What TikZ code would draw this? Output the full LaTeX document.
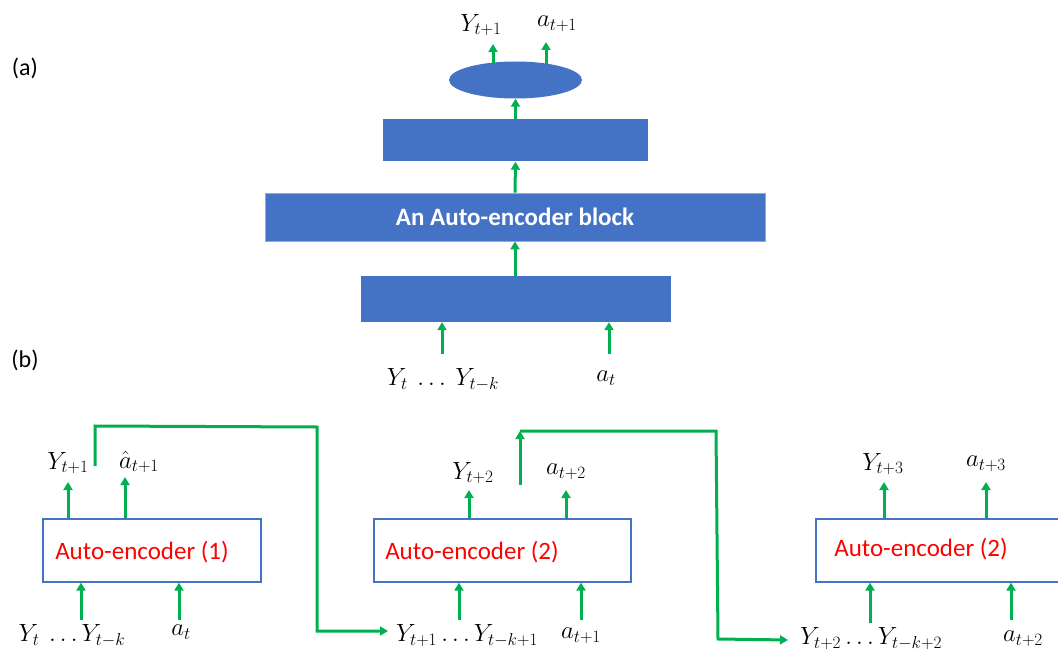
\documentclass[tikz,border=0pt]{standalone}
\usepackage{fontspec}
\setmainfont{Carlito}
\DeclareMathSizes{24}{24}{19}{15}
\usetikzlibrary{shapes.geometric,arrows.meta,calc}
\definecolor{blk}{HTML}{4472C4}
\definecolor{grn}{HTML}{00B050}
\definecolor{rd}{HTML}{FF0000}
\tikzset{
  fillbox/.style={draw=none,fill=blk,inner sep=0pt},
  linebox/.style={draw=blk,line width=1.2pt,fill=white,inner sep=0pt},
  garrow/.style={draw=grn,line width=3pt,-{Triangle[length=8pt,width=9pt]}},
  gline/.style={draw=grn,line width=3pt},
  mlab/.style={inner sep=0pt,font=\fontsize{24}{28}\selectfont},
  tlab/.style={inner sep=0pt,font=\fontsize{24}{28}\selectfont},
  aetxt/.style={inner sep=0pt,text=rd,font=\fontsize{25}{30}\selectfont},
}
\begin{document}
\begin{tikzpicture}[x=1pt,y=-1pt]
\useasboundingbox (0,0) rectangle (1058,650);
\clip (0,0) rectangle (1058,650);
% ---------- (a) ----------
\node[tlab] (la) at (25,68) {(a)};
\node[tlab] (lb) at (25,360) {(b)};
\node[fillbox,ellipse,minimum width=133pt,minimum height=37pt] (ell) at (515.5,80) {};
\node[fillbox,minimum width=265pt,minimum height=42pt] (r2) at (515.5,140.5) {};
\node[fillbox,draw=blk!60!white,line width=0.8pt,minimum width=500pt,minimum height=48pt,text=white,font=\bfseries\fontsize{25}{30}\selectfont] (r3) at (515,217) {An Auto-encoder block};
\node[fillbox,minimum width=310pt,minimum height=46pt] (r4) at (516,299) {};
\draw[garrow] (r4.north -| r3.south) -- (r3.south);
\draw[garrow] (r3.north) -- (r2.south);
\draw[garrow] (r2.north) -- (ell.south);
\node[mlab] (aY) at (481,25) {$Y_{t+1}$};
\node[mlab] (aA) at (557,24) {$a_{t+1}$};
\coordinate (aYt) at (493,44);
\coordinate (aAt) at (546,42);
\draw[garrow] (ell.north -| aYt) ++(0,2) -- (aYt);
\draw[garrow] (ell.north -| aAt) ++(0,3) -- (aAt);
\node[mlab] (aIn) at (443,380) {$Y_t\ \ldots\ Y_{t-k}$};
\node[mlab] (aIa) at (606,378) {$a_t$};
\coordinate (aI1) at (442,354);
\coordinate (aI2) at (609,354);
\draw[garrow] (aI1) -- (aI1 |- r4.south);
\draw[garrow] (aI2) -- (aI2 |- r4.south);
% ---------- (b) ----------
\node[linebox,minimum width=218pt,minimum height=63pt] (b1) at (152,550.5) {};
\node[linebox,minimum width=257pt,minimum height=63pt] (b2) at (502.5,550.5) {};
\node[linebox,minimum width=260pt,minimum height=63pt] (b3) at (946,550.5) {};
\node[aetxt] (t1) at (142,552) {Auto-encoder (1)};
\node[aetxt] (t2) at (472,552) {Auto-encoder (2)};
\node[aetxt] (t3) at (921,549) {Auto-encoder (2)};
% box 1
\node[mlab] (o1Y) at (68,463) {$Y_{t+1}$};
\node[mlab] (o1A) at (139,462) {$\hat{a}_{t+1}$};
\coordinate (o1Yt) at (68,482);
\coordinate (o1At) at (125,477);
\draw[garrow] (o1Yt |- b1.north) -- (o1Yt);
\draw[garrow] (o1At |- b1.north) -- (o1At);
\node[mlab] (i1Y) at (72,636) {$Y_t\ \ldots Y_{t-k}$};
\node[mlab] (i1A) at (181,632) {$a_t$};
\coordinate (i1Ys) at (81,620);
\coordinate (i1As) at (179,620);
\draw[garrow] (i1Ys) -- (i1Ys |- b1.south);
\draw[garrow] (i1As) -- (i1As |- b1.south);
% box 2
\node[mlab] (o2Y) at (473,473) {$Y_{t+2}$};
\node[mlab] (o2A) at (566,472) {$a_{t+2}$};
\coordinate (o2Yt) at (469,490);
\coordinate (o2At) at (566,490);
\draw[garrow] (o2Yt |- b2.north) -- (o2Yt);
\draw[garrow] (o2At |- b2.north) -- (o2At);
\node[mlab] (i2Y) at (467,636) {$Y_{t+1} \ldots Y_{t-k+1}$};
\node[mlab] (i2A) at (581,636) {$a_{t+1}$};
\coordinate (i2Ys) at (459,620);
\coordinate (i2As) at (581,620);
\draw[garrow] (i2Ys) -- (i2Ys |- b2.south);
\draw[garrow] (i2As) -- (i2As |- b2.south);
% box 3
\node[mlab] (o3Y) at (883,464) {$Y_{t+3}$};
\node[mlab] (o3A) at (986,464) {$a_{t+3}$};
\coordinate (o3Yt) at (884,482);
\coordinate (o3At) at (986,482);
\draw[garrow] (o3Yt |- b3.north) -- (o3Yt);
\draw[garrow] (o3At |- b3.north) -- (o3At);
\node[mlab] (i3Y) at (871,639) {$Y_{t+2} \ldots Y_{t-k+2}$};
\node[mlab] (i3A) at (1023,639) {$a_{t+2}$};
\coordinate (i3Ys) at (870,623);
\coordinate (i3As) at (1011,620);
\draw[garrow] (i3Ys) -- (i3Ys |- b3.south);
\draw[garrow] (i3As) -- (i3As |- b3.south);
% feedback connectors
\coordinate (f1s) at (95,466);
\coordinate (f1a) at (95,426);
\coordinate (f1b) at (317,427);
\coordinate (f1c) at (317,631);
\coordinate (f1e) at (388,631);
\draw[gline,-{Triangle[length=8pt,width=9pt]},line join=miter] (f1s) -- (f1a) -- (f1b) -- (f1c) -- (f1e);
\coordinate (f2s) at (520,485);
\coordinate (f2a) at (520,431);
\coordinate (f2b) at (716,431);
\coordinate (f2c) at (718,639);
\coordinate (f2e) at (788,640);
\draw[garrow] (f2s) -- (f2a);
\draw[gline,-{Triangle[length=8pt,width=9pt]},line join=miter] (f2a) -- (f2b) -- (f2c) -- (f2e);
\end{tikzpicture}
\end{document}
